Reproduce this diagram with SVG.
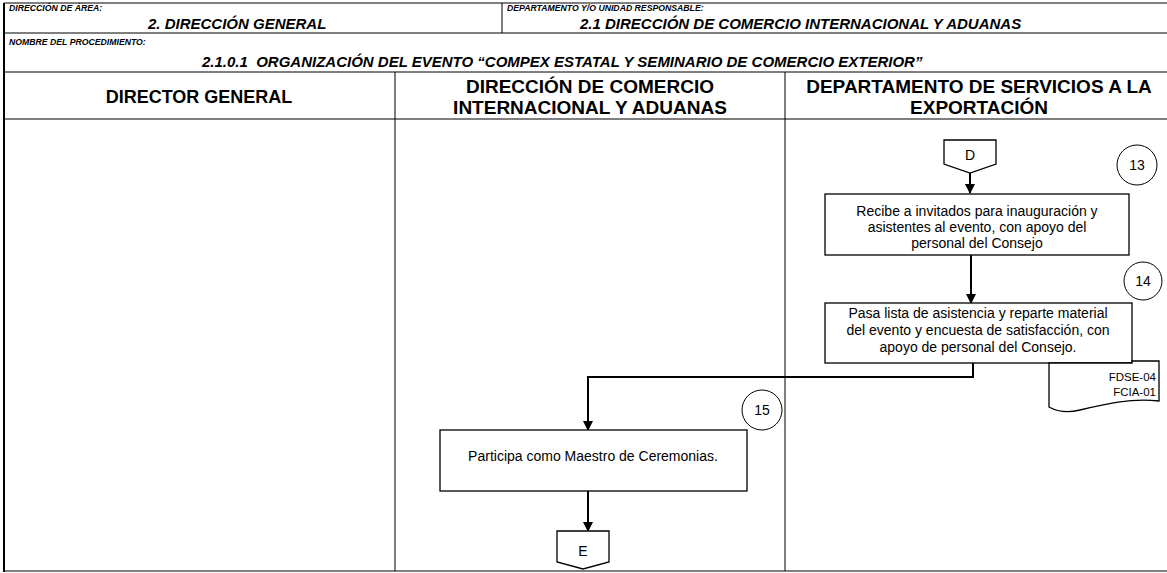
<svg xmlns="http://www.w3.org/2000/svg" width="1167" height="573" viewBox="0 0 1167 573">
<style>
.hl{stroke:#555;stroke-width:1.5;fill:none}
.ln{stroke:#000;stroke-width:1;fill:none}
.lbl{font-family:"Liberation Sans",Arial,sans-serif;font-weight:bold;font-style:italic;font-size:8.7px;fill:#000}
.hv{font-family:"Liberation Sans",Arial,sans-serif;font-weight:bold;font-style:italic;font-size:15px;fill:#000}
.lane{font-family:"Liberation Sans",Arial,sans-serif;font-weight:bold;font-size:19px;fill:#000;text-anchor:middle}
.box{fill:#fff;stroke:#000;stroke-width:1.3}
.t{font-family:"Liberation Sans",Arial,sans-serif;font-size:14px;fill:#000;text-anchor:middle}
.s{font-family:"Liberation Sans",Arial,sans-serif;font-size:11.5px;fill:#000;text-anchor:end}
.c{fill:#fff;stroke:#000;stroke-width:1}
.con{stroke:#000;stroke-width:2;fill:none}
</style>
<defs>
<marker id="ah" markerWidth="10" markerHeight="10" refX="9" refY="5" orient="auto" markerUnits="userSpaceOnUse">
<path d="M0,0 L10,5 L0,10 Z" fill="#000"/>
</marker>
</defs>
<rect width="1167" height="573" fill="#fff"/>
<g id="frame">
<line class="hl" x1="4" y1="3" x2="1167" y2="3"/>
<line class="hl" x1="4" y1="33" x2="1167" y2="33"/>
<line class="hl" x1="4" y1="72" x2="1167" y2="72"/>
<line class="hl" x1="4" y1="119" x2="1167" y2="119"/>
<line class="hl" x1="4" y1="571" x2="1167" y2="571"/>
<line class="ln" x1="502" y1="3" x2="502" y2="33"/>
<line class="ln" x1="395" y1="72" x2="395" y2="571"/>
<line class="ln" x1="785" y1="72" x2="785" y2="571"/>
<line x1="4" y1="3" x2="4" y2="572" stroke="#000" stroke-width="2"/>
</g>
<g id="header">
<text class="lbl" x="9" y="11">DIRECCIÓN DE ÁREA:</text>
<text class="hv" x="148" y="29">2. DIRECCIÓN GENERAL</text>
<text class="lbl" x="507" y="11">DEPARTAMENTO Y/O UNIDAD RESPONSABLE:</text>
<text class="hv" x="580" y="29">2.1 DIRECCIÓN DE COMERCIO INTERNACIONAL Y ADUANAS</text>
<text class="lbl" x="9" y="45">NOMBRE DEL PROCEDIMIENTO:</text>
<text class="hv" x="202" y="67" xml:space="preserve">2.1.0.1  ORGANIZACIÓN DEL EVENTO “COMPEX ESTATAL Y SEMINARIO DE COMERCIO EXTERIOR”</text>
<text class="lane" x="199" y="103" style="font-size:18px">DIRECTOR GENERAL</text>
<text class="lane" x="590" y="93">DIRECCIÓN DE COMERCIO</text>
<text class="lane" x="590" y="114">INTERNACIONAL Y ADUANAS</text>
<text class="lane" x="979" y="93">DEPARTAMENTO DE SERVICIOS A LA</text>
<text class="lane" x="979" y="114">EXPORTACIÓN</text>
</g>
<g id="connectors">
<line class="con" x1="970" y1="173" x2="970" y2="193" marker-end="url(#ah)"/>
<line class="con" x1="971" y1="255" x2="971" y2="303" marker-end="url(#ah)"/>
<polyline class="con" points="973,363 973,377 588,377 588,430" marker-end="url(#ah)"/>
<line class="con" x1="588" y1="491" x2="588" y2="531" marker-end="url(#ah)"/>
</g>
<g id="connD">
<path class="box" d="M944,140 H996 V164 L970,173 L944,164 Z"/>
<text class="t" x="970" y="160">D</text>
</g>
<g id="n13">
<circle class="c" cx="1137" cy="165" r="20"/>
<text class="t" x="1137" y="170">13</text>
</g>
<g id="box13">
<rect class="box" x="825" y="194" width="304" height="61"/>
<text class="t" x="977" y="216">Recibe a invitados para inauguración y</text>
<text class="t" x="977" y="232">asistentes al evento, con apoyo del</text>
<text class="t" x="977" y="248">personal del Consejo</text>
</g>
<g id="n14">
<circle class="c" cx="1143" cy="281" r="19"/>
<text class="t" x="1143" y="286">14</text>
</g>
<g id="box14">
<rect class="box" x="825" y="303" width="307" height="60"/>
<text class="t" x="978" y="318">Pasa lista de asistencia y reparte material</text>
<text class="t" x="978" y="335">del evento y encuesta de satisfacción, con</text>
<text class="t" x="978" y="352">apoyo de personal del Consejo.</text>
</g>
<g id="doc">
<path class="box" d="M1049,363 V407 C1058,412 1068,413 1080,410 C1105,404 1130,398 1159,401 V361 H1132 V363 Z"/>
<text class="s" x="1156" y="381">FDSE-04</text>
<text class="s" x="1156" y="396">FCIA-01</text>
</g>
<g id="n15">
<circle class="c" cx="762" cy="410" r="20"/>
<text class="t" x="762" y="415">15</text>
</g>
<g id="box15">
<rect class="box" x="440" y="430" width="307" height="61"/>
<text class="t" x="593" y="461">Participa como Maestro de Ceremonias.</text>
</g>
<g id="connE">
<path class="box" d="M557,531 H609 V562 L583,569 L557,562 Z"/>
<text class="t" x="583" y="556">E</text>
</g>
</svg>
